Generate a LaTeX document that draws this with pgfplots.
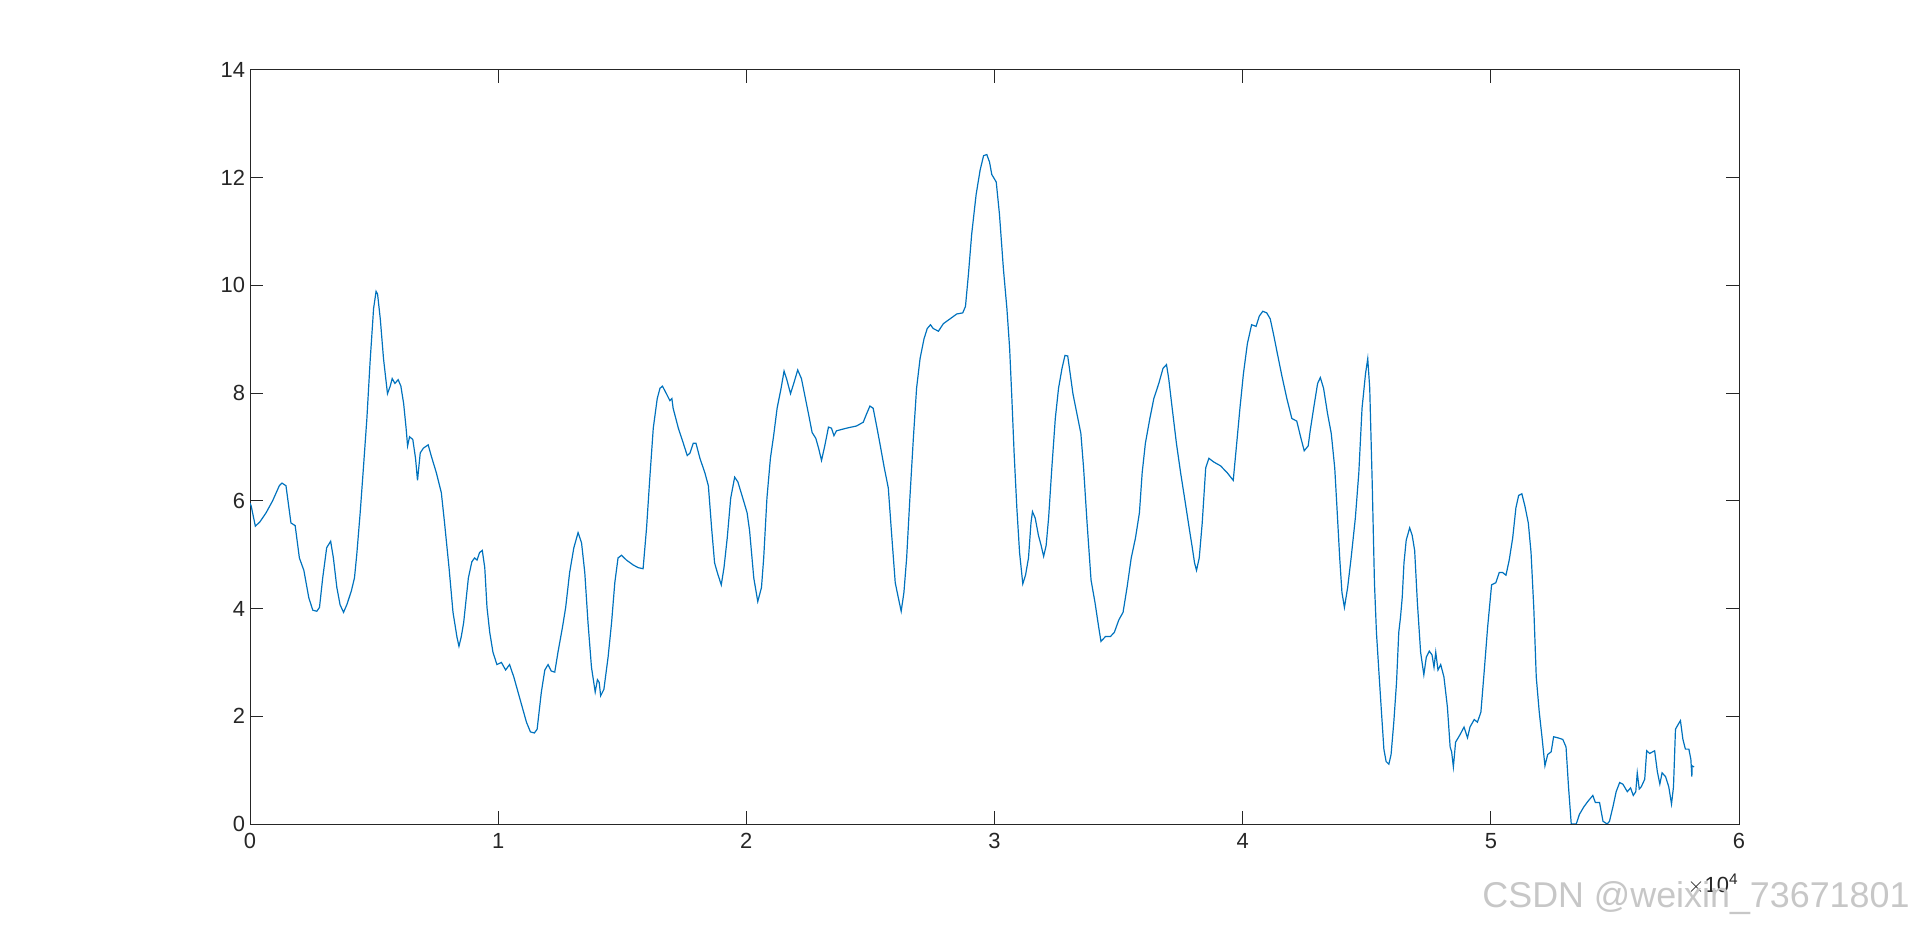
\documentclass[border=0pt]{standalone}
\usepackage{pgfplots}
\pgfplotsset{compat=1.18}
\usepackage{fontspec}
\setmainfont{Liberation Sans}
\definecolor{mblue}{rgb}{0,0.447,0.741}
\definecolor{axgray}{rgb}{0.15,0.15,0.15}

\begin{document}
\begin{tikzpicture}
\begin{axis}[at={(0,0)},anchor=south west,scale only axis,
  width=744.5bp,height=377bp,
  xmin=0,xmax=6,ymin=0,ymax=14,
  xtick={0,1,...,6},ytick={0,2,...,14},
  tick align=inside,major tick length=6.5bp,
  axis line style={axgray,line width=0.5pt},
  every tick/.style={axgray,line width=0.5pt},
  tick label style={font=\fontsize{11}{13}\selectfont,text=axgray},
  /pgf/number format/assume math mode=true,
  xticklabel style={yshift=-1bp},
  yticklabel style={xshift=1bp},
  scaled ticks=false,
  clip=true]
\addplot[mblue,line width=0.6pt] coordinates {
(0,5.96) (0.005,5.9) (0.0215,5.53) (0.040,5.61) (0.065,5.78) (0.091,6.0) (0.118,6.28) (0.129,6.33) (0.145,6.28)
(0.165,5.59) (0.182,5.54) (0.199,4.94) (0.217,4.71) (0.237,4.2) (0.253,3.97) (0.269,3.95) (0.280,4.02)
(0.293,4.57) (0.309,5.13) (0.325,5.25) (0.336,4.94) (0.350,4.39) (0.363,4.07) (0.377,3.93) (0.390,4.07)
(0.408,4.32) (0.421,4.57) (0.430,4.99) (0.444,5.78) (0.457,6.61) (0.471,7.53) (0.484,8.59) (0.498,9.57)
(0.508,9.89) (0.514,9.84) (0.525,9.38) (0.538,8.64) (0.554,7.99) (0.565,8.13) (0.573,8.27) (0.584,8.18)
(0.597,8.25) (0.608,8.13) (0.619,7.81) (0.629,7.35) (0.635,7.02) (0.643,7.19) (0.656,7.14) (0.667,6.79)
(0.675,6.38) (0.686,6.89) (0.699,6.98) (0.718,7.04) (0.730,6.84) (0.751,6.52) (0.771,6.15) (0.784,5.59)
(0.802,4.76) (0.818,3.93) (0.834,3.47) (0.842,3.30) (0.851,3.47) (0.861,3.74) (0.880,4.57) (0.894,4.87)
(0.905,4.94) (0.915,4.90) (0.925,5.04) (0.936,5.08) (0.946,4.76) (0.955,4.02) (0.966,3.56) (0.979,3.19)
(0.995,2.96) (1.013,3.00) (1.030,2.86) (1.046,2.96) (1.063,2.73) (1.080,2.45) (1.097,2.17) (1.114,1.89)
(1.130,1.71) (1.146,1.69) (1.157,1.76) (1.174,2.45) (1.188,2.86) (1.201,2.96) (1.214,2.84) (1.228,2.82)
(1.241,3.19) (1.259,3.65) (1.272,4.02) (1.288,4.67) (1.305,5.13) (1.322,5.41) (1.336,5.22) (1.349,4.67)
(1.362,3.74) (1.376,2.91) (1.391,2.45) (1.400,2.68) (1.407,2.63) (1.413,2.38) (1.426,2.50) (1.443,3.10)
(1.457,3.74) (1.470,4.48) (1.483,4.94) (1.497,4.99) (1.517,4.90) (1.544,4.81) (1.564,4.76) (1.584,4.74)
(1.598,5.50) (1.611,6.42) (1.625,7.35) (1.641,7.90) (1.652,8.09) (1.662,8.13) (1.679,7.98) (1.692,7.86)
(1.700,7.90) (1.705,7.72) (1.726,7.35) (1.746,7.07) (1.762,6.84) (1.773,6.89) (1.786,7.07) (1.797,7.07)
(1.813,6.79) (1.833,6.52) (1.847,6.28) (1.860,5.50) (1.872,4.85) (1.883,4.67) (1.899,4.44) (1.910,4.76)
(1.923,5.31) (1.937,6.05) (1.953,6.44) (1.966,6.35) (1.989,6.0) (2.003,5.78) (2.013,5.45) (2.030,4.57)
(2.046,4.13) (2.061,4.39) (2.070,4.94) (2.083,6.05) (2.097,6.79) (2.110,7.21) (2.124,7.72) (2.140,8.09)
(2.152,8.41) (2.162,8.27) (2.178,7.99) (2.191,8.18) (2.207,8.43) (2.222,8.27) (2.236,7.95) (2.252,7.58)
(2.265,7.27) (2.280,7.16) (2.291,6.98) (2.303,6.75) (2.316,7.02) (2.331,7.37) (2.343,7.35) (2.353,7.21)
(2.363,7.30) (2.404,7.35) (2.444,7.39) (2.471,7.46) (2.485,7.62) (2.498,7.76) (2.511,7.72) (2.525,7.39)
(2.538,7.07) (2.556,6.61) (2.572,6.24) (2.585,5.41) (2.600,4.48) (2.612,4.21) (2.624,3.95) (2.635,4.30)
(2.646,4.94) (2.659,6.05) (2.673,7.16) (2.686,8.09) (2.700,8.64) (2.716,9.01) (2.729,9.20) (2.742,9.27)
(2.753,9.20) (2.774,9.15) (2.794,9.29) (2.821,9.38) (2.848,9.47) (2.872,9.49) (2.883,9.61) (2.895,10.21)
(2.908,10.95) (2.926,11.69) (2.942,12.14) (2.956,12.41) (2.969,12.43) (2.980,12.29) (2.989,12.06) (3.007,11.92)
(3.020,11.32) (3.036,10.30) (3.050,9.57) (3.061,8.83) (3.070,7.90) (3.079,6.89) (3.090,5.87) (3.101,5.04)
(3.114,4.46) (3.125,4.62) (3.137,4.94) (3.147,5.59) (3.153,5.80) (3.164,5.68) (3.177,5.36) (3.188,5.17)
(3.198,4.97) (3.208,5.17) (3.218,5.68) (3.231,6.61) (3.245,7.53) (3.258,8.09) (3.272,8.46) (3.284,8.70)
(3.295,8.69) (3.305,8.36) (3.316,7.99) (3.332,7.62) (3.348,7.25) (3.359,6.61) (3.373,5.59) (3.389,4.53)
(3.405,4.11) (3.420,3.65) (3.429,3.39) (3.447,3.48) (3.467,3.48) (3.483,3.56) (3.501,3.79) (3.518,3.93)
(3.534,4.39) (3.551,4.94) (3.568,5.31) (3.584,5.78) (3.595,6.52) (3.608,7.07) (3.626,7.53) (3.642,7.90)
(3.662,8.18) (3.679,8.46) (3.693,8.53) (3.702,8.27) (3.716,7.72) (3.733,7.07) (3.750,6.52) (3.766,6.05)
(3.783,5.54) (3.797,5.13) (3.806,4.85) (3.814,4.71) (3.825,4.94) (3.837,5.59) (3.851,6.61) (3.864,6.79)
(3.884,6.72) (3.911,6.65) (3.938,6.52) (3.962,6.38) (3.976,7.07) (3.989,7.72) (4.003,8.36) (4.019,8.92)
(4.036,9.27) (4.054,9.24) (4.067,9.43) (4.081,9.52) (4.097,9.49) (4.111,9.38) (4.124,9.10) (4.140,8.73)
(4.158,8.32) (4.178,7.90) (4.198,7.53) (4.218,7.48) (4.235,7.16) (4.248,6.93) (4.264,7.02) (4.272,7.30)
(4.286,7.72) (4.302,8.18) (4.313,8.29) (4.326,8.09) (4.342,7.62) (4.357,7.25) (4.371,6.61) (4.380,5.87)
(4.391,4.94) (4.400,4.30) (4.410,4.02) (4.423,4.39) (4.437,4.94) (4.454,5.68) (4.468,6.52) (4.481,7.72)
(4.495,8.36) (4.504,8.64) (4.512,8.09) (4.522,6.33) (4.531,4.48) (4.539,3.56) (4.549,2.82) (4.558,2.17)
(4.569,1.39) (4.578,1.16) (4.589,1.11) (4.598,1.29) (4.609,1.89) (4.620,2.63) (4.629,3.56) (4.636,3.84)
(4.643,4.21) (4.650,4.85) (4.659,5.27) (4.673,5.50) (4.683,5.36) (4.693,5.08) (4.704,4.11) (4.717,3.19)
(4.730,2.77) (4.740,3.10) (4.752,3.21) (4.763,3.14) (4.771,2.91) (4.778,3.19) (4.787,2.86) (4.798,2.96)
(4.811,2.73) (4.825,2.17) (4.836,1.43) (4.842,1.34) (4.849,1.06) (4.858,1.52) (4.876,1.66) (4.892,1.80)
(4.906,1.60) (4.916,1.80) (4.933,1.94) (4.946,1.89) (4.960,2.08) (4.973,2.82) (4.987,3.65) (5.003,4.44)
(5.020,4.48) (5.034,4.67) (5.047,4.67) (5.061,4.62) (5.074,4.90) (5.088,5.31) (5.101,5.87) (5.112,6.10)
(5.125,6.13) (5.137,5.91) (5.151,5.59) (5.162,5.04) (5.173,4.02) (5.183,2.73) (5.195,2.08) (5.206,1.62)
(5.218,1.08) (5.229,1.29) (5.243,1.34) (5.253,1.62) (5.270,1.60) (5.290,1.57) (5.303,1.43) (5.313,0.69)
(5.324,0.0) (5.344,0.0) (5.357,0.18) (5.375,0.32) (5.391,0.42) (5.411,0.53) (5.421,0.40) (5.438,0.40)
(5.452,0.05) (5.469,0.0) (5.478,0.05) (5.492,0.32) (5.505,0.60) (5.519,0.77) (5.532,0.74) (5.550,0.60)
(5.563,0.67) (5.574,0.53) (5.584,0.60) (5.590,0.95) (5.598,0.65) (5.606,0.69) (5.620,0.83) (5.628,1.36)
(5.640,1.31) (5.660,1.36) (5.671,0.97) (5.681,0.74) (5.690,0.95) (5.704,0.88) (5.717,0.69) (5.728,0.37)
(5.736,0.69) (5.744,1.76) (5.755,1.85) (5.764,1.92) (5.774,1.57) (5.784,1.39) (5.798,1.39) (5.806,1.20)
(5.810,0.88) (5.811,1.08) (5.819,1.06)
};
\end{axis}
\node[anchor=north east,inner sep=0pt,text=axgray,font=\fontsize{11}{13}\selectfont] at (744.5bp,-25bp) {$\times$10\textsuperscript{4}};
\node[anchor=base east,inner sep=0pt,text=black!22,font=\fontsize{18}{20}\selectfont] at (830bp,-41.5bp) {CSDN @weixin\_73671801};
\path (-125bp,-51.5bp) rectangle (835bp,412bp);
\end{tikzpicture}
\end{document}
